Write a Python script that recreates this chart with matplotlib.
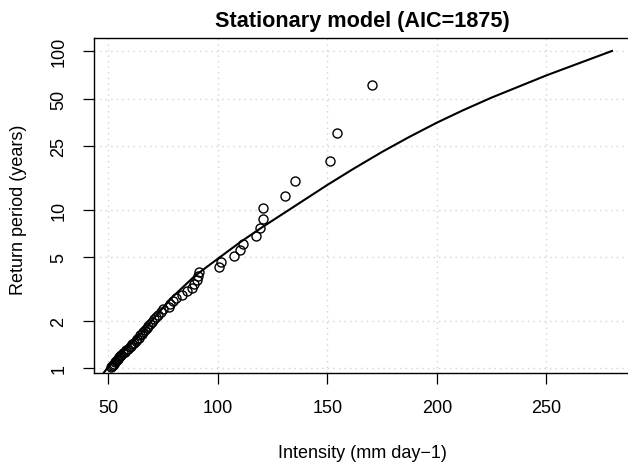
import matplotlib
matplotlib.use("Agg")
import matplotlib.pyplot as plt
from matplotlib.ticker import FixedLocator, NullLocator

plt.rcParams['font.family'] = ['Liberation Sans', 'DejaVu Sans']

# observed annual maxima (mm/day) and their empirical return periods (years)
obs_intensity = [170.4, 154.4, 151.2, 135.2, 130.8, 120.8, 120.7, 119.3, 117.4, 111.4,
                 110.3, 107.5, 101.3, 100.7, 91.4, 91.1, 90.4, 89.3, 88.1, 86.0,
                 83.5, 81.0, 79.7, 78.2, 77.6, 74.8, 74.0, 72.5, 71.8, 71.0,
                 70.0, 69.2, 68.3, 67.5, 66.8, 66.0, 65.2, 64.5, 63.8, 63.2,
                 62.5, 61.8, 61.0, 60.3, 59.7, 59.0, 58.3, 57.5, 56.8, 56.0,
                 55.5, 55.0, 54.5, 54.0, 53.5, 53.0, 52.6, 52.2, 51.8, 51.2]
obs_period = [61.0, 30.5, 20.33, 15.25, 12.2, 10.17, 8.71, 7.63, 6.78, 6.1,
              5.55, 5.08, 4.69, 4.36, 4.07, 3.81, 3.59, 3.39, 3.21, 3.05,
              2.90, 2.77, 2.65, 2.54, 2.44, 2.35, 2.26, 2.18, 2.10, 2.03,
              1.97, 1.91, 1.85, 1.79, 1.74, 1.69, 1.65, 1.61, 1.56, 1.53,
              1.49, 1.45, 1.42, 1.39, 1.36, 1.33, 1.30, 1.27, 1.24, 1.22,
              1.20, 1.17, 1.15, 1.13, 1.11, 1.09, 1.07, 1.05, 1.03, 1.017]

# fitted return level curve
fit_intensity = [48.0, 50, 55, 63, 70, 78.3, 89.6, 100, 110, 120, 130.7, 150, 162, 175, 187, 200, 212, 225, 250, 280]
fit_period = [0.94, 1.02, 1.2, 1.55, 2.0, 2.73, 3.83, 4.9, 6.2, 7.7, 9.6, 14.3, 18.1, 23.1, 28.5, 35.3, 42.3, 50.8, 70.1, 100]

x_ticks = [50, 100, 150, 200, 250]
y_ticks = [1, 2, 5, 10, 25, 50, 100]
y_labels = ["1", "2", "5", "10", "25", "50", "100"]

fig = plt.figure(figsize=(6.28, 4.64), dpi=100)
ax = fig.add_axes([0.1497, 0.194, 0.8946, 0.722])

ax.set_yscale("log")
ax.set_xlim(43.48, 300)
ax.set_ylim(0.934, 120.7)

# dotted grid
for xv in x_ticks:
    ax.axvline(xv, color="#D3D3D3", lw=1, ls=(0, (1, 3)), zorder=0)
for yv in y_ticks:
    ax.axhline(yv, color="#D3D3D3", lw=1, ls=(0, (1, 3)), zorder=0)

ax.plot(fit_intensity, fit_period, color="black", lw=1.5, zorder=3)
ax.plot(obs_intensity, obs_period, ls="none", marker="o", markersize=6.5,
        markerfacecolor="none", markeredgecolor="black", markeredgewidth=1.0, zorder=4)

ax.xaxis.set_major_locator(FixedLocator(x_ticks))
ax.xaxis.set_minor_locator(NullLocator())
ax.yaxis.set_major_locator(FixedLocator(y_ticks))
ax.yaxis.set_minor_locator(NullLocator())
ax.set_xticklabels([str(v) for v in x_ticks])
ax.set_yticklabels(y_labels, rotation=90, va="center")

ax.tick_params(axis="both", direction="out", length=8, width=0.9, labelsize=13, color="black")
ax.tick_params(axis="x", pad=11)
ax.tick_params(axis="y", pad=11)

ax.spines["right"].set_visible(False)
for s in ["left", "top", "bottom"]:
    ax.spines[s].set_linewidth(1.0)

fig.text(362 / 628, 1 - 21 / 464, "Stationary model (AIC=1875)", ha="center", va="center",
         fontsize=15.6, fontweight="bold")
fig.text(362 / 628, 1 - 454 / 464, "Intensity (mm day\u22121)", ha="center", va="center", fontsize=13)
fig.text(19 / 628, 1 - 210 / 464, "Return period (years)", ha="center", va="center",
         rotation=90, fontsize=13)

fig.savefig("out.png", dpi=100)
